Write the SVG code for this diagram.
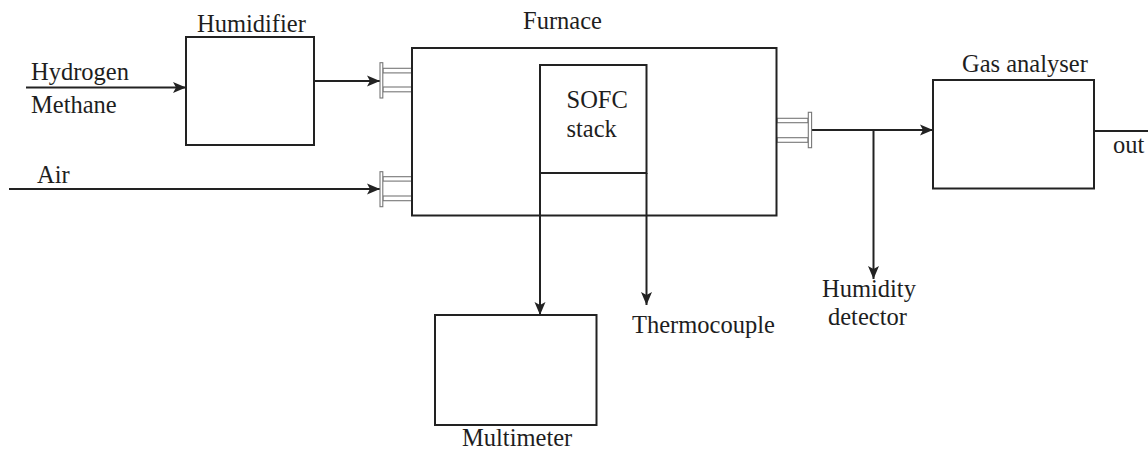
<svg xmlns="http://www.w3.org/2000/svg" width="1148" height="450" viewBox="0 0 1148 450">
<style>
.box{fill:none;stroke:#222;stroke-width:2}
.ln{fill:none;stroke:#222;stroke-width:2}
.fl{fill:#fff;stroke:#777;stroke-width:1.1}
.t{font-family:'Liberation Serif','Tinos','Times New Roman','DejaVu Serif',serif;font-size:24.5px;fill:#1e1e1e}
</style>
<defs>
<marker id="ah" markerUnits="userSpaceOnUse" markerWidth="14" markerHeight="12" refX="13" refY="6" orient="auto">
<path d="M0,0.5 L13,6 L0,11.5 L3,6 Z" fill="#222"/>
</marker>
</defs>
<rect width="1148" height="450" fill="#fff"/>

<g id="connectors">
<line class="ln" x1="26" y1="87.5" x2="186" y2="87.5" marker-end="url(#ah)"/>
<line class="ln" x1="314" y1="81" x2="380" y2="81" marker-end="url(#ah)"/>
<line class="ln" x1="9" y1="189" x2="380" y2="189" marker-end="url(#ah)"/>
<line class="ln" x1="812" y1="130" x2="933" y2="130" marker-end="url(#ah)"/>
<line class="ln" x1="873.5" y1="130" x2="873.5" y2="279" marker-end="url(#ah)"/>
<line class="ln" x1="540" y1="173" x2="540" y2="315" marker-end="url(#ah)"/>
<line class="ln" x1="646.5" y1="173" x2="646.5" y2="305" marker-end="url(#ah)"/>
<line class="ln" x1="1094" y1="131" x2="1148" y2="131"/>
</g>

<g id="inlet-flange-fuel">
<rect class="fl" x="383" y="68.3" width="29" height="4.6"/>
<rect class="fl" x="383" y="87" width="29" height="4.8"/>
<rect class="fl" x="380" y="62.7" width="2.8" height="35.3"/>
</g>
<g id="inlet-flange-air">
<rect class="fl" x="383" y="176.7" width="29" height="4.4"/>
<rect class="fl" x="383" y="196" width="29" height="4.7"/>
<rect class="fl" x="380" y="171.7" width="2.8" height="35"/>
</g>
<g id="outlet-flange">
<rect class="fl" x="777" y="118.3" width="31" height="4.4"/>
<rect class="fl" x="777" y="137.7" width="31" height="4.6"/>
<rect class="fl" x="808.3" y="112.3" width="3.3" height="35.4"/>
</g>

<g id="inputs" font-family="Liberation Serif, serif">
<text class="t" x="31" y="80">Hydrogen</text>
<text class="t" x="31" y="113">Methane</text>
<text class="t" x="37" y="183">Air</text>
</g>

<g id="humidifier">
<rect class="box" x="186" y="37" width="128" height="108"/>
<text class="t" x="197" y="32">Humidifier</text>
</g>

<g id="furnace">
<rect class="box" x="412" y="48" width="364.5" height="167.5"/>
<text class="t" x="523" y="29">Furnace</text>
</g>

<g id="sofc-stack">
<rect class="box" x="540" y="65" width="106.5" height="108"/>
<text class="t" x="566.5" y="107.5">SOFC</text>
<text class="t" x="566.5" y="136.5">stack</text>
</g>

<g id="gas-analyser">
<rect class="box" x="933" y="80" width="161" height="108.5"/>
<text class="t" x="962" y="71.5">Gas analyser</text>
<text class="t" x="1113" y="153">out</text>
</g>

<g id="multimeter">
<rect class="box" x="435" y="315" width="161.5" height="110"/>
<text class="t" x="462" y="446">Multimeter</text>
</g>

<g id="thermocouple">
<text class="t" x="632" y="333">Thermocouple</text>
</g>

<g id="humidity-detector">
<text class="t" x="822" y="296.5">Humidity</text>
<text class="t" x="828" y="325">detector</text>
</g>
</svg>
